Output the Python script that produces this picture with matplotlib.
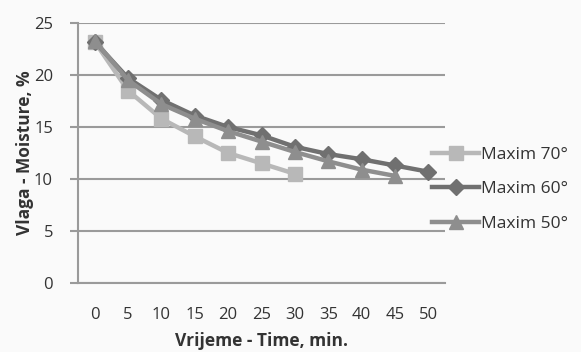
import numpy as np
import matplotlib.pyplot as plt

plt.rcParams['font.family'] = ['Open Sans', 'DejaVu Sans']

times = ['0', '5', '10', '15', '20', '25', '30', '35', '40', '45', '50']
maxim_70 = [23.2, 18.5, 15.8, 14.1, 12.5, 11.5, 10.5]
maxim_60 = [23.2, 19.7, 17.6, 16.1, 15.0, 14.2, 13.1, 12.4, 11.9, 11.3, 10.7]
maxim_50 = [23.3, 19.5, 17.2, 15.8, 14.6, 13.6, 12.6, 11.7, 10.9, 10.3]

text_col = '#333333'
grid_col = '#9a9a9a'

fig = plt.figure(figsize=(5.81, 3.52), dpi=100)
fig.patch.set_facecolor('#fafafa')
ax = fig.add_axes([0.1343, 0.196, 0.6317, 0.7386])
ax.set_facecolor('#fafafa')

x = np.arange(len(times))
ax.plot(x[:len(maxim_70)], maxim_70, color='#b8b8b8', lw=3.2, marker='s', ms=10,
        label='Maxim 70°', zorder=3)
ax.plot(x[:len(maxim_60)], maxim_60, color='#707070', lw=3.2, marker='D', ms=8.5,
        label='Maxim 60°', zorder=4)
ax.plot(x[:len(maxim_50)], maxim_50, color='#8e8e8e', lw=3.2, marker='^', ms=10.5,
        label='Maxim 50°', zorder=5)

ax.set_xlim(-0.5, len(times) - 0.5)
ax.set_ylim(0, 25)
ax.set_yticks(range(0, 26, 5))
ax.set_xticks(x)
ax.set_xticklabels(times)
ax.yaxis.grid(True, color=grid_col, lw=1.5)
ax.set_axisbelow(True)

for s in ['top', 'right']:
    ax.spines[s].set_visible(False)
for s in ['left', 'bottom']:
    ax.spines[s].set_color(grid_col)
    ax.spines[s].set_linewidth(1.5)

ax.tick_params(axis='y', length=6, width=1.5, color=grid_col, labelsize=12,
               labelcolor=text_col, pad=12)
ax.tick_params(axis='x', length=0, labelsize=12, labelcolor=text_col, pad=17)

ax.set_xlabel('Vrijeme - Time, min.', fontsize=12.5, fontweight='bold',
              color=text_col, labelpad=7)
ax.set_ylabel('Vlaga - Moisture, %', fontsize=12.5, fontweight='bold',
              color=text_col, labelpad=0)

ax.legend(loc='upper left', bbox_to_anchor=(0.743, 0.583),
          bbox_transform=fig.transFigure, frameon=False, borderpad=0,
          borderaxespad=0, fontsize=12.5, labelcolor=text_col,
          handlelength=2.75, handletextpad=0.1, labelspacing=1.05)

fig.savefig('out.png', dpi=100, facecolor=fig.get_facecolor())
